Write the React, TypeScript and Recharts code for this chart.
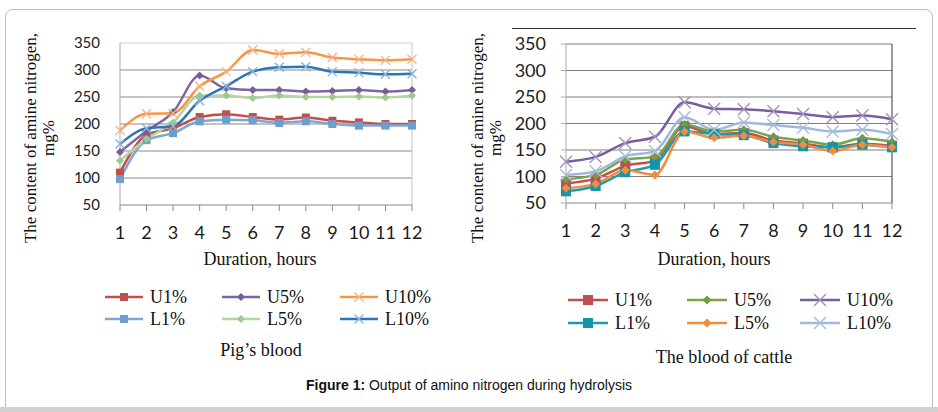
import { CartesianGrid, Line, LineChart, ReferenceLine, XAxis, YAxis } from "recharts";

const hours = ["1", "2", "3", "4", "5", "6", "7", "8", "9", "10", "11", "12"];
const yTicks = [50, 100, 150, 200, 250, 300, 350];

// pig's blood
const pigU1 = [110, 180, 192, 213, 218, 213, 208, 212, 206, 203, 200, 200];
const pigU5 = [148, 187, 222, 290, 266, 263, 263, 260, 261, 263, 260, 263];
const pigU10 = [188, 219, 220, 270, 297, 337, 330, 333, 323, 320, 318, 320];
const pigL1 = [98, 170, 183, 205, 208, 207, 202, 205, 200, 197, 197, 197];
const pigL5 = [132, 172, 203, 253, 253, 248, 253, 250, 250, 251, 249, 253];
const pigL10 = [163, 192, 196, 243, 270, 297, 305, 306, 297, 295, 292, 293];

// blood of cattle
const cowU1 = [87, 96, 120, 130, 195, 180, 182, 168, 162, 155, 162, 158];
const cowU5 = [95, 103, 132, 137, 198, 185, 188, 175, 168, 160, 172, 165];
const cowU10 = [128, 137, 163, 175, 240, 228, 227, 223, 218, 212, 215, 208];
const cowL1 = [72, 82, 108, 122, 185, 180, 178, 163, 157, 155, 160, 155];
const cowL5 = [78, 86, 112, 103, 185, 173, 177, 165, 160, 148, 160, 155];
const cowL10 = [103, 110, 138, 148, 212, 188, 202, 197, 192, 185, 188, 180];

const SERIF = '"Liberation Serif", "Times New Roman", serif';
const TICK_FONT = 'Lato, "Open Sans", sans-serif';

type Shape = "square" | "diamond" | "cross";
type Series = { name: string; values: number[]; line: string; mark: string; shape: Shape; size: number };

const pigSeries: Series[] = [
  { name: "U1%", values: pigU1, line: "#C0504D", mark: "#C0504D", shape: "square", size: 8 },
  { name: "U5%", values: pigU5, line: "#8064A2", mark: "#7A5C9C", shape: "diamond", size: 8 },
  { name: "U10%", values: pigU10, line: "#F79646", mark: "#F6B38A", shape: "cross", size: 9 },
  { name: "L1%", values: pigL1, line: "#7FA7CF", mark: "#6E9ECB", shape: "square", size: 8 },
  { name: "L5%", values: pigL5, line: "#B5D6A4", mark: "#9BCB8A", shape: "diamond", size: 8 },
  { name: "L10%", values: pigL10, line: "#2E75B6", mark: "#86B6DE", shape: "cross", size: 9 },
];

const cowSeries: Series[] = [
  { name: "U1%", values: cowU1, line: "#C0504D", mark: "#C0504D", shape: "square", size: 10 },
  { name: "U5%", values: cowU5, line: "#77A548", mark: "#6E9F45", shape: "diamond", size: 9 },
  { name: "U10%", values: cowU10, line: "#7A5E9E", mark: "#9F96B8", shape: "cross", size: 12 },
  { name: "L1%", values: cowL1, line: "#1A9BB0", mark: "#1496A8", shape: "square", size: 10 },
  { name: "L5%", values: cowL5, line: "#F68B3C", mark: "#F68B3C", shape: "diamond", size: 9 },
  { name: "L10%", values: cowL10, line: "#9DB9DE", mark: "#A9BDD8", shape: "cross", size: 12 },
];

function rows(series: Series[]) {
  return hours.map((h, i) => {
    const r: Record<string, string | number> = { h };
    series.forEach((s) => (r[s.name] = s.values[i]));
    return r;
  });
}

function Marker({ shape, cx, cy, size, color }: { shape: Shape; cx: number; cy: number; size: number; color: string }) {
  const s = size / 2;
  if (shape === "square") return <rect x={cx - s} y={cy - s} width={size} height={size} fill={color} />;
  if (shape === "diamond")
    return <polygon points={`${cx},${cy - s} ${cx + s},${cy} ${cx},${cy + s} ${cx - s},${cy}`} fill={color} />;
  return (
    <g stroke={color} strokeWidth={1.4}>
      <line x1={cx - s} y1={cy - s} x2={cx + s} y2={cy + s} />
      <line x1={cx - s} y1={cy + s} x2={cx + s} y2={cy - s} />
    </g>
  );
}

function Legend({ series, cols, rowsY, lineW }: { series: Series[]; cols: number[]; rowsY: number[]; lineW: number }) {
  return (
    <>
      {series.map((s, i) => {
        const x = cols[i % 3];
        const y = rowsY[Math.floor(i / 3)];
        return (
          <div key={s.name} style={{ position: "absolute", left: x, top: y - 11, height: 22, display: "flex", alignItems: "center" }}>
            <svg width={lineW} height={22}>
              <line x1={0} y1={11} x2={lineW} y2={11} stroke={s.line} strokeWidth={2.5} />
              <Marker shape={s.shape} cx={lineW / 2} cy={11} size={s.size} color={s.mark} />
            </svg>
            <span style={{ fontFamily: SERIF, fontSize: 18, marginLeft: 7, color: "#111" }}>{s.name}</span>
          </div>
        );
      })}
    </>
  );
}

function YLabel({ cx, cy }: { cx: number; cy: number }) {
  return (
    <div
      style={{
        position: "absolute",
        left: cx - 130,
        top: cy - 18,
        width: 260,
        height: 36,
        lineHeight: "18px",
        textAlign: "center",
        fontFamily: SERIF,
        fontSize: 17,
        color: "#111",
        transform: "rotate(-90deg)",
      }}
    >
      The content of amine nitrogen,
      <br />
      mg%
    </div>
  );
}

function Chart({
  series,
  width,
  height,
  margin,
  yTickSize,
  yTickMargin,
  yFont,
  gridColor,
  topColor,
  borderColor,
}: {
  series: Series[];
  width: number;
  height: number;
  margin: { top: number; right: number; bottom: number; left: number };
  yTickSize: number;
  yTickMargin: number;
  yFont: number;
  gridColor: string;
  topColor: string;
  borderColor: string;
}) {
  return (
    <LineChart width={width} height={height} data={rows(series)} margin={margin}>
      <CartesianGrid vertical={false} horizontalValues={[100, 150, 200, 250, 300]} stroke={gridColor} strokeWidth={1.2} />
      <ReferenceLine y={350} stroke={topColor} strokeWidth={1.2} />
      <ReferenceLine x="12" stroke={borderColor} strokeWidth={1.2} />
      <XAxis
        dataKey="h"
        height={34}
        interval={0}
        stroke="#888"
        tickSize={6}
        tickMargin={15}
        tick={{ fill: "#1a1a1a", fontSize: 18, fontFamily: TICK_FONT }}
      />
      <YAxis
        domain={[50, 350]}
        ticks={yTicks}
        interval={0}
        width={60}
        stroke="#aaa"
        tickLine={yTickSize > 0}
        tickSize={yTickSize}
        tickMargin={yTickMargin}
        tick={{ fill: "#222", fontSize: yFont, fontFamily: TICK_FONT }}
      />
      {series.map((s) => (
        <Line
          key={s.name}
          dataKey={s.name}
          type="monotone"
          stroke={s.line}
          strokeWidth={2.5}
          isAnimationActive={false}
          dot={(p: any) => (
            <Marker key={`${s.name}-${p.index}`} shape={s.shape} cx={p.cx} cy={p.cy} size={s.size} color={s.mark} />
          )}
          activeDot={false}
        />
      ))}
    </LineChart>
  );
}

export default function App() {
  return (
    <div style={{ position: "absolute", left: 0, top: 0, width: 938, height: 412, background: "#fff", overflow: "hidden" }}>
      <div
        style={{
          position: "absolute",
          left: 5,
          top: 9,
          width: 926,
          height: 420,
          border: "1px solid #bdbdbd",
          borderRadius: 8,
        }}
      />
      <div style={{ position: "absolute", left: 0, top: 407, width: 938, height: 5, background: "#d0d0d0" }} />
      <div style={{ position: "absolute", left: 512, top: 28, width: 404, height: 1, background: "#333" }} />

      <div style={{ position: "absolute", left: 0, top: 0 }}>
        <Chart
          series={pigSeries}
          width={460}
          height={250}
          margin={{ top: 43, right: 48, bottom: 11, left: 60 }}
          yTickSize={0}
          yTickMargin={20}
          yFont={15}
          gridColor="#8a8a8a"
          topColor="#d4d4d4"
          borderColor="#cfcfcf"
        />
      </div>
      <div style={{ position: "absolute", left: 440, top: 0 }}>
        <Chart
          series={cowSeries}
          width={480}
          height={250}
          margin={{ top: 44, right: 28, bottom: 13, left: 66 }}
          yTickSize={5}
          yTickMargin={15}
          yFont={18}
          gridColor="#7f7f7f"
          topColor="#7f7f7f"
          borderColor="#555"
        />
      </div>

      <YLabel cx={40} cy={138} />
      <YLabel cx={487} cy={138} />

      <div style={{ position: "absolute", left: 160, width: 200, top: 249, textAlign: "center", fontFamily: SERIF, fontSize: 18, color: "#111" }}>
        Duration, hours
      </div>
      <div style={{ position: "absolute", left: 614, width: 200, top: 249, textAlign: "center", fontFamily: SERIF, fontSize: 18, color: "#111" }}>
        Duration, hours
      </div>

      <Legend series={pigSeries} cols={[105, 222, 340]} rowsY={[297, 319]} lineW={38} />
      <Legend series={cowSeries} cols={[568, 687, 800]} rowsY={[300, 323]} lineW={40} />

      <div style={{ position: "absolute", left: 161, width: 200, top: 340, textAlign: "center", fontFamily: SERIF, fontSize: 18, color: "#111" }}>
        Pig’s blood
      </div>
      <div style={{ position: "absolute", left: 574, width: 300, top: 347, textAlign: "center", fontFamily: SERIF, fontSize: 18, color: "#111" }}>
        The blood of cattle
      </div>

      <div
        style={{
          position: "absolute",
          left: 0,
          width: 938,
          top: 377,
          textAlign: "center",
          fontFamily: '"Liberation Sans", Arial, sans-serif',
          fontSize: 14,
          color: "#111",
        }}
      >
        <b>Figure 1:</b> Output of amino nitrogen during hydrolysis
      </div>
    </div>
  );
}
